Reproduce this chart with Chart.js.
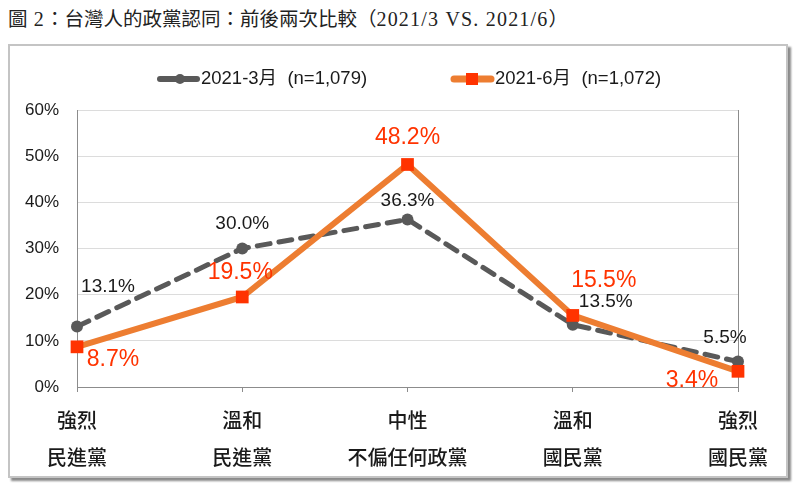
<!DOCTYPE html>
<html><head><meta charset="utf-8">
<script src="https://cdn.jsdelivr.net/npm/chart.js@4"></script>
<style>
html,body{margin:0;padding:0;background:#fff;}
#wrap{position:relative;width:800px;height:488px;overflow:hidden;}
#title{position:absolute;left:8px;top:3px;font-family:"Noto Sans CJK TC",sans-serif;font-size:19.5px;color:#222;white-space:nowrap;}
#title .m{font-family:"Liberation Serif",serif;font-size:20px;letter-spacing:1.2px;}
#frame{position:absolute;left:8px;top:44px;width:776px;height:430px;border:2px solid #c4c4c4;box-shadow:3px 3px 2px #8a8a8a;background:#fff;}
canvas{position:absolute;left:0;top:0;}
</style></head>
<body><div id="wrap">
<div id="title">圖<span class="m">&nbsp;2</span>：台灣人的政黨認同：前後兩次比較（<span class="m">2021/3 VS. 2021/6</span>）</div>
<div id="frame"></div>
<canvas id="c" width="800" height="488"></canvas>
</div>
<script>
const categories = [['強烈','民進黨'],['溫和','民進黨'],['中性','不偏任何政黨'],['溫和','國民黨'],['強烈','國民黨']];
const seriesMarch = [13.1, 30.0, 36.3, 13.5, 5.5];
const seriesJune = [8.7, 19.5, 48.2, 15.5, 3.4];
const seriesNames = ['2021-3月  (n=1,079)', '2021-6月  (n=1,072)'];
const yTicks = [0,10,20,30,40,50,60];

// label offsets (pixels) relative to point
const marchLabelOffsets = [[31,-40],[0,-25],[0,-19],[33,-23],[-13,-24]];
const juneLabelOffsets = [[36,13],[-2,-24],[0,-27],[31,-35],[-46,9]];

const FONT = '"Liberation Sans", Arial, sans-serif';
const CJK = '"Noto Sans CJK TC", sans-serif';

const overlay = {
  id:'overlay',
  beforeDatasetsDraw(chart){
    const {ctx, chartArea:a} = chart;
    ctx.save();
    ctx.strokeStyle = '#8c8c8c'; ctx.lineWidth = 1;
    ctx.beginPath(); ctx.moveTo(Math.round(a.right)+0.5, a.top); ctx.lineTo(Math.round(a.right)+0.5, a.bottom); ctx.stroke();
    ctx.restore();
  },
  afterDatasetsDraw(chart){
    const {ctx} = chart;
    ctx.save();
    ctx.textAlign='center'; ctx.textBaseline='middle';
    const m0 = chart.getDatasetMeta(0), m1 = chart.getDatasetMeta(1);
    ctx.font = '19px ' + FONT; ctx.fillStyle = '#1a1a1a';
    m0.data.forEach((p,i)=>{
      ctx.fillText(seriesMarch[i].toFixed(1)+'%', p.x+marchLabelOffsets[i][0], p.y+marchLabelOffsets[i][1]);
    });
    ctx.font = '23px ' + FONT; ctx.fillStyle = '#ff3300';
    m1.data.forEach((p,i)=>{
      ctx.fillText(seriesJune[i].toFixed(1)+'%', p.x+juneLabelOffsets[i][0], p.y+juneLabelOffsets[i][1]);
    });
    // legend
    const ly = 79;
    ctx.lineCap='round';
    ctx.strokeStyle='#595959'; ctx.lineWidth=6;
    ctx.beginPath(); ctx.moveTo(160,ly); ctx.lineTo(197,ly); ctx.stroke();
    ctx.fillStyle='#595959'; ctx.beginPath(); ctx.arc(180,ly,5,0,Math.PI*2); ctx.fill();
    ctx.strokeStyle='#ed7d31'; ctx.lineWidth=7;
    ctx.beginPath(); ctx.moveTo(454,ly); ctx.lineTo(491,ly); ctx.stroke();
    ctx.fillStyle='#ff3300'; ctx.fillRect(466,ly-6,12,12);
    ctx.fillStyle='#1a1a1a'; ctx.textAlign='left';
    ctx.font = '18.5px ' + FONT + ', ' + CJK;
    ctx.fillText(seriesNames[0], 201, ly);
    ctx.fillText(seriesNames[1], 495, ly);
    ctx.restore();
  }
};

new Chart(document.getElementById('c'), {
  type:'line',
  data:{
    labels: categories,
    datasets:[
      {label:seriesNames[0], data:seriesMarch, borderColor:'#595959', backgroundColor:'#595959',
       borderWidth:5, borderDash:[13,9], borderCapStyle:'round', pointStyle:'circle', pointRadius:6, pointBorderWidth:0,
       pointBackgroundColor:'#595959', tension:0, order:2},
      {label:seriesNames[1], data:seriesJune, borderColor:'#ed7d31', backgroundColor:'#ff3300',
       borderWidth:6, pointStyle:'rect', pointRadius:9, pointBorderWidth:0, pointBackgroundColor:'#ff3300',
       tension:0, order:1}
    ]
  },
  options:{
    responsive:false, animation:false, devicePixelRatio:1,
    layout:{padding:{left:0,right:62,top:110,bottom:0}},
    plugins:{legend:{display:false}, tooltip:{enabled:false}, title:{display:false}},
    scales:{
      x:{
        offset:false,
        grid:{drawOnChartArea:false, drawTicks:true, tickLength:5, color:'#8c8c8c'},
        border:{display:true, color:'#8c8c8c', width:1},
        ticks:{padding:10, maxRotation:0, autoSkip:false, color:'#1a1a1a',
               font:{family:CJK, size:20, weight:'500', lineHeight:'37px'}},
        afterFit(s){ s.height = 101; }
      },
      y:{
        min:0, max:60,
        afterBuildTicks(s){ s.ticks = yTicks.map(v=>({value:v})); },
        grid:{color:'#dcdcdc', drawTicks:false},
        border:{display:true, color:'#8c8c8c', width:1},
        ticks:{padding:18, color:'#1a1a1a', font:{family:FONT, size:17}, callback:v=>v+'%'},
        afterFit(s){ s.width = 77; }
      }
    }
  },
  plugins:[overlay]
});
</script>
</body></html>
